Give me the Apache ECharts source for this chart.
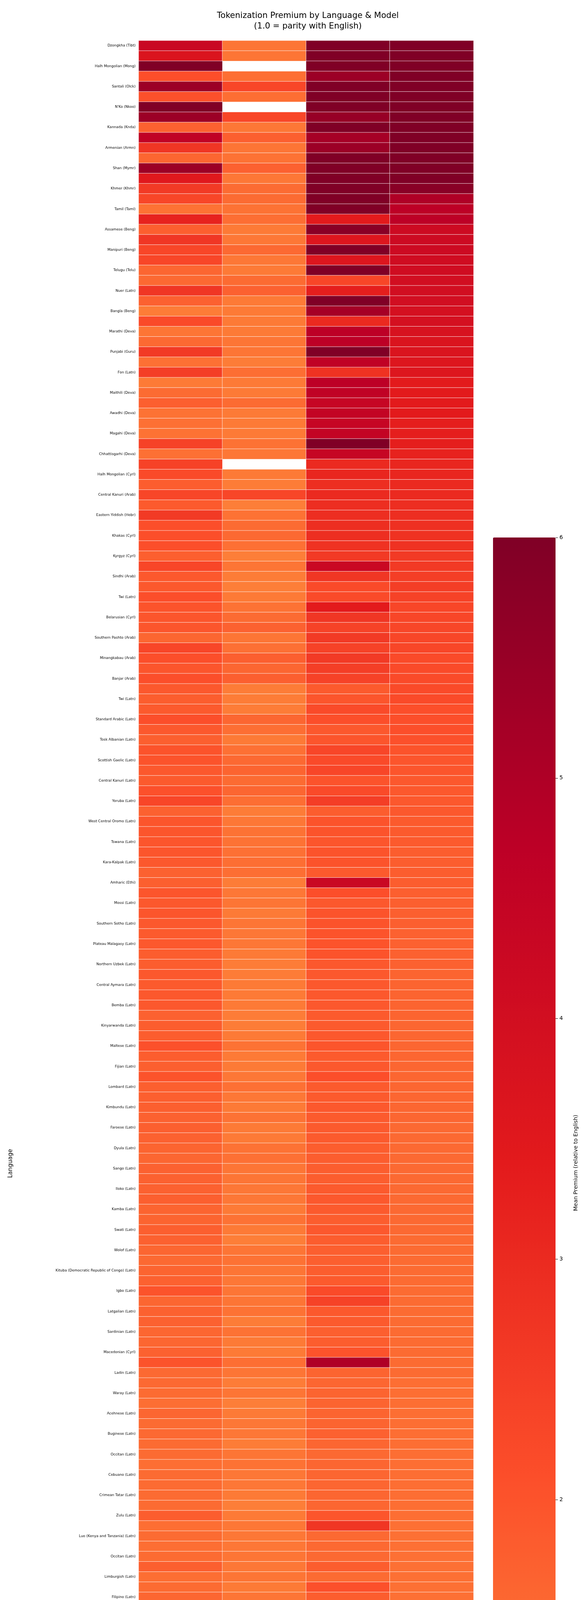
<!DOCTYPE html>
<html>
<head>
<meta charset="utf-8">
<script src="https://cdn.jsdelivr.net/npm/echarts@6/dist/echarts.min.js"></script>
<style>html,body{margin:0;padding:0;background:#fff}#main{width:1500px;height:5940px}</style>
</head>
<body>
<div id="main"></div>
<script>
// models (x axis)
var models = ["gemma3", "meta", "qwen3", "tiny-aya"];
// labelled rows only (every other row carries a label in the source)
var labelledLanguages = [
  "Dzongkha (Tibt)", "Halh Mongolian (Mong)", "Santali (Olck)", "N'Ko (Nkoo)", "Kannada (Knda)",
  "Armenian (Armn)", "Shan (Mymr)", "Khmer (Khmr)", "Tamil (Taml)", "Assamese (Beng)",
  "Manipuri (Beng)", "Telugu (Telu)", "Nuer (Latn)", "Bangla (Beng)", "Marathi (Deva)",
  "Punjabi (Guru)", "Fon (Latn)", "Maithili (Deva)", "Awadhi (Deva)", "Magahi (Deva)",
  "Chhattisgarhi (Deva)", "Halh Mongolian (Cyrl)", "Central Kanuri (Arab)", "Eastern Yiddish (Hebr)", "Khakas (Cyrl)",
  "Kyrgyz (Cyrl)", "Sindhi (Arab)", "Twi (Latn)", "Belarusian (Cyrl)", "Southern Pashto (Arab)",
  "Minangkabau (Arab)", "Banjar (Arab)", "Twi (Latn)", "Standard Arabic (Latn)", "Tosk Albanian (Latn)",
  "Scottish Gaelic (Latn)", "Central Kanuri (Latn)", "Yoruba (Latn)", "West Central Oromo (Latn)", "Tswana (Latn)",
  "Kara-Kalpak (Latn)", "Amharic (Ethi)", "Mossi (Latn)", "Southern Sotho (Latn)", "Plateau Malagasy (Latn)",
  "Northern Uzbek (Latn)", "Central Aymara (Latn)", "Bemba (Latn)", "Kinyarwanda (Latn)", "Maltese (Latn)",
  "Fijian (Latn)", "Lombard (Latn)", "Kimbundu (Latn)", "Faroese (Latn)", "Dyula (Latn)",
  "Sango (Latn)", "Iloko (Latn)", "Kamba (Latn)", "Swati (Latn)", "Wolof (Latn)",
  "Kituba (Democratic Republic of Congo) (Latn)", "Igbo (Latn)", "Latgalian (Latn)", "Sardinian (Latn)", "Macedonian (Cyrl)",
  "Ladin (Latn)", "Waray (Latn)", "Acehnese (Latn)", "Buginese (Latn)", "Occitan (Latn)",
  "Cebuano (Latn)", "Crimean Tatar (Latn)", "Zulu (Latn)", "Luo (Kenya and Tanzania) (Latn)", "Occitan (Latn)",
  "Limburgish (Latn)", "Filipino (Latn)", "Basque (Latn)", "Papiamento (Latn)", "Standard Latvian (Latn)",
  "Haitian Creole (Latn)", "Venetian (Latn)", "Afrikaans (Latn)", "Catalan (Latn)", "Iranian Persian (Arab)",
  "Polish (Latn)", "Russian (Cyrl)", "Lithuanian (Latn)", "Slovak (Latn)", "Hebrew (Hebr)",
  "Standard Estonian (Latn)", "French (Latn)", "Persian (Afghanistan) (Arab)", "Moroccan Arabic (Arab)", "Banjar (Latn)",
  "Czech (Latn)", "Vietnamese (Latn)", "Cantonese (Hant)", "Italian (Latn)", "Turkish (Latn)",
  "Najdi Arabic (Arab)", "Ta'izzi-Adeni Arabic (Arab)", "German (Latn)", "Javanese (Latn)", "Mesopotamian Arabic (Arab)",
  "North Levantine Arabic (Arab)", "Portuguese (Latn)", "Korean (Hang)", "Standard Malay (Latn)", "Indonesian (Latn)"
];
// mean premium per row, one array per model (null = missing)
var gemma3 = [
  4.3,3.7,6.5,2.1,5.4,2.05,6.5,5.4,1.7,4.6, 2.7,1.6,5.4,3.5,2.6,2.3,1.35,3.2,1.75,2.7,
  2.3,2.3,1.6,1.55,2.7,1.7,1.15,2.2,1.3,1.55, 2.6,1.4,2.5,1.2,1.5,1.75,1.35,1.4,1.35,2.4,
  1.4,2.4,2.2,1.8,2.3,1.85,2.6,2.1,2.1,2.1, 1.75,2.3,1.9,1.9,2.1,2.0,1.95,1.95,1.6,2.3,
  2.1,1.95,2.1,1.9,1.8,1.85,2.1,1.9,1.75,2.0, 2.0,1.9,1.85,2.05,2.3,1.7,1.95,1.95,1.95,1.95,
  1.9,1.7,1.75,1.95,1.9,1.95,1.9,1.85,1.9,1.8, 1.8,1.9,1.85,1.9,1.9,1.7,1.8,1.8,2.05,1.8,
  1.75,2.0,1.75,1.75,1.75,1.7,1.75,1.7,1.65,1.6, 1.7,1.7,1.7,1.75,1.65,1.65,1.75,1.7,1.6,1.55,
  1.65,1.7,2.0,1.6,1.7,1.7,1.6,1.6,1.7,2.0, 1.55,1.55,1.5,1.45,1.6,1.5,1.55,1.5,1.5,1.45,
  1.5,1.5,1.5,1.5,1.8,1.45,1.5,1.45,1.5,1.75, 1.45,1.5,1.6,1.45,1.5,1.45,1.45,1.45,1.7,1.45,
  1.45,1.45,1.45,1.45,1.45,1.4,1.4,1.4,1.35,1.35, 1.35,1.35,1.3,1.5,1.5,1.5,1.45,1.4,1.6,1.4,
  1.45,1.4,1.4,1.4,1.4,1.4,1.45,1.4,1.4,1.35, 1.45,1.4,1.35,1.35,1.15,1.35,1.4,1.3,1.35,1.35,
  1.35,1.35,1.4,1.35,1.3,1.3,1.35,1.3,1.35,1.3, 1.3,1.3,1.2,1.15,1.3,1.2,1.2,1.15,1.2,1.1
];
var meta = [
  1.3,1.3,null,1.45,2.3,1.45,null,2.3,1.25,1.75, 1.3,1.35,1.7,1.25,1.5,1.5,1.35,1.45,1.2,1.25,
  1.55,1.25,1.2,1.5,1.7,1.2,1.2,1.2,1.2,1.3, 1.3,1.15,1.45,1.2,1.2,1.5,1.2,1.2,1.2,1.35,
  1.25,null,1.2,1.15,2.3,1.1,1.35,1.5,1.55,1.4, 1.1,1.3,1.15,1.1,1.2,1.35,1.5,1.7,1.3,1.4,
  1.75,1.6,1.75,1.15,1.15,1.15,1.6,1.45,1.2,1.4, 1.55,1.65,1.5,1.6,1.45,1.15,1.25,1.35,1.35,1.4,
  1.45,1.45,1.15,1.25,1.3,1.2,1.3,1.25,1.25,1.2, 1.15,1.15,1.2,1.2,1.2,1.15,1.15,1.2,1.35,1.2,
  1.2,1.25,1.4,1.25,1.2,1.35,1.2,1.2,1.35,1.4, 1.3,1.3,1.25,1.25,1.2,1.35,1.2,1.1,1.3,1.35,
  1.3,1.25,1.3,1.3,1.35,1.15,1.35,1.2,1.2,1.45, 1.3,1.15,1.3,1.1,1.2,1.25,1.25,1.15,1.3,1.35,
  1.25,1.25,1.2,1.1,1.2,1.25,1.25,1.25,1.3,1.25, 1.3,1.2,1.3,1.35,1.25,1.35,1.25,1.25,1.25,1.2,
  1.15,1.3,1.3,1.3,1.2,1.05,1.25,1.15,1.15,1.1, 1.3,1.1,1.3,1.3,1.2,1.2,1.25,1.2,1.25,1.15,
  1.25,1.25,1.3,1.2,1.2,1.15,1.3,1.2,1.15,1.15, 1.3,1.35,1.25,1.25,1.2,1.2,1.25,1.25,1.2,1.15,
  1.3,1.3,1.3,1.2,1.25,1.25,1.1,1.1,1.3,1.1, 1.3,1.3,1.2,1.15,1.15,1.15,1.1,1.2,1.15,1.1
];
var qwen3 = [
  6.5,6.5,6.5,5.4,6.5,6.5,6.5,5.5,6.5,5.2, 5.4,6.5,6.5,6.5,6.5,6.5,6.5,3.4,5.8,3.6,
  6.2,3.6,6.5,2.3,3.3,6.5,5.2,3.0,4.7,4.7, 6.5,4.6,2.8,4.7,4.6,4.4,4.5,4.4,4.5,6.3,
  4.4,3.0,3.1,2.9,3.0,2.9,2.9,2.9,2.9,2.8, 2.6,4.3,2.7,2.2,2.2,3.4,2.7,2.4,2.6,2.4,
  2.6,2.5,2.4,1.85,1.95,2.2,2.1,1.9,1.95,2.3, 2.2,2.3,2.0,2.2,2.5,1.8,2.0,2.0,1.95,2.0,
  2.0,1.85,4.3,2.1,1.9,2.0,2.0,2.0,2.0,2.0, 1.9,1.9,1.9,1.9,1.9,1.85,1.85,1.9,1.95,1.85,
  1.9,2.1,1.85,1.85,1.9,1.85,1.85,1.85,1.8,1.8, 1.8,1.8,1.85,1.9,1.85,1.8,1.9,1.8,1.75,1.75,
  1.8,1.85,2.2,2.4,1.9,1.85,1.75,1.8,2.0,5.0, 1.65,1.6,1.65,1.65,1.65,1.65,1.7,1.6,1.55,1.6,
  1.6,1.6,1.6,1.6,1.95,2.7,1.55,1.55,1.55,1.8, 1.5,2.05,1.8,1.5,1.75,2.3,1.55,1.95,2.0,1.85,
  1.55,1.55,1.6,1.65,1.6,1.6,1.5,1.5,2.4,1.45, 1.5,1.5,1.5,1.75,1.85,1.7,1.9,1.65,1.35,1.45,
  1.6,1.45,1.45,1.6,2.4,1.4,1.45,1.55,1.45,1.4, 1.85,1.45,1.35,1.45,1.25,1.45,1.45,1.4,1.5,1.5,
  1.45,1.45,1.45,1.45,1.35,1.4,1.5,1.4,1.45,1.4, 1.4,1.4,1.25,1.15,1.5,1.3,1.5,1.1,1.4,1.1
];
var tinyAya = [
  6.5,6.5,6.5,6.5,6.5,6.5,6.5,6.5,6.5,6.5, 6.5,6.5,6.5,6.5,5.8,5.0,4.7,4.7,4.2,4.2,
  4.2,4.1,4.1,4.0,4.0,4.0,3.9,3.9,3.8,3.7, 3.7,3.6,3.6,3.4,3.4,3.4,3.4,3.3,3.3,3.3,
  3.2,3.1,3.1,3.0,3.0,2.9,2.9,2.85,2.8,2.8, 2.6,2.6,2.5,2.5,2.4,2.3,2.3,2.3,2.3,2.3,
  2.2,2.2,2.2,2.2,2.2,2.1,2.1,2.1,2.05,2.0, 1.95,1.95,1.9,1.9,1.9,1.9,1.85,1.85,1.85,1.8,
  1.8,1.8,1.8,1.75,1.75,1.75,1.75,1.7,1.7,1.7, 1.7,1.65,1.65,1.65,1.65,1.65,1.6,1.6,1.6,1.6,
  1.6,1.6,1.6,1.6,1.6,1.6,1.55,1.55,1.55,1.55, 1.55,1.55,1.55,1.55,1.55,1.55,1.55,1.5,1.5,1.5,
  1.5,1.5,1.5,1.5,1.5,1.5,1.5,1.5,1.5,1.5, 1.5,1.45,1.45,1.45,1.45,1.45,1.45,1.45,1.45,1.45,
  1.45,1.45,1.45,1.45,1.45,1.4,1.4,1.4,1.4,1.4, 1.4,1.4,1.4,1.4,1.4,1.4,1.35,1.35,1.35,1.35,
  1.35,1.35,1.35,1.35,1.35,1.35,1.35,1.35,1.3,1.3, 1.3,1.3,1.3,1.3,1.3,1.3,1.3,1.3,1.3,1.3,
  1.3,1.3,1.3,1.3,1.3,1.3,1.3,1.3,1.3,1.25, 1.25,1.25,1.25,1.25,1.25,1.25,1.25,1.25,1.25,1.25,
  1.25,1.2,1.2,1.2,1.2,1.2,1.2,1.2,1.2,1.2, 1.2,1.2,1.2,1.15,1.2,1.15,1.15,1.15,1.15,1.1
];
var colorbarMin = 0.8, colorbarMax = 6;
// upper half of YlOrRd
var palette = ["#fd8d3c", "#fc4e2a", "#e31a1c", "#bd0026", "#800026"];

var rows = [];
labelledLanguages.forEach(function (l) { rows.push(l); rows.push(""); });

var cells = [];
[gemma3, meta, qwen3, tinyAya].forEach(function (col, x) {
    for (var y = 0; y < col.length; y++) {
        if (col[y] === null) continue;
        // colour scale is clipped at colorbarMax like the source
        cells.push([x, y, Math.min(col[y], colorbarMax)]);
    }
});

var font = "DejaVu Sans";
var chart = echarts.init(document.getElementById("main"));
chart.setOption({
    animation: false,
    textStyle: { fontFamily: font },
    title: {
        text: "Tokenization Premium by Language & Model\n(1.0 = parity with English)",
        left: 783, top: 22, textAlign: "center",
        textStyle: { fontSize: 21, fontWeight: "normal", color: "#000", lineHeight: 27, fontFamily: font }
    },
    grid: [
        { left: 355, top: 104, width: 857, height: 5749 },
        { left: 1262, top: 1376, width: 160, height: 3202 }
    ],
    xAxis: [{
        gridIndex: 0, type: "category", data: models,
        name: "Model", nameLocation: "middle", nameGap: 48,
        nameTextStyle: { fontSize: 15, color: "#000" },
        axisLine: { show: false }, splitLine: { show: false },
        axisTick: { alignWithLabel: true, length: 6, lineStyle: { color: "#000" } },
        axisLabel: { fontSize: 15, color: "#000", margin: 12 }
    }, {
        gridIndex: 1, type: "category", data: [""], show: false
    }],
    yAxis: [{
        gridIndex: 0, type: "category", data: rows, inverse: true,
        name: "Language", nameLocation: "middle", nameGap: 320, nameRotate: 90,
        nameTextStyle: { fontSize: 15, color: "#000" },
        axisLine: { show: false }, splitLine: { show: false },
        axisTick: { alignWithLabel: true, interval: 1, length: 5, lineStyle: { color: "#000" } },
        axisLabel: { interval: 1, fontSize: 9, color: "#000", margin: 8 }
    }, {
        gridIndex: 1, type: "value", position: "right",
        min: colorbarMin, max: colorbarMax, splitNumber: 5,
        name: "Mean Premium (relative to English)", nameLocation: "middle", nameGap: 45, nameRotate: 90,
        nameTextStyle: { fontSize: 14, color: "#000" },
        axisLine: { show: false }, splitLine: { show: false },
        axisTick: { show: true, length: 6, lineStyle: { color: "#000" } },
        axisLabel: { fontSize: 14, color: "#000", showMinLabel: false, margin: 10 }
    }],
    visualMap: {
        type: "continuous", min: colorbarMin, max: colorbarMax,
        calculable: false, text: null, showLabel: false,
        left: 1262, top: 1376, itemWidth: 160, itemHeight: 3202,
        seriesIndex: 0, inRange: { color: palette }, padding: 0
    },
    series: [{
        type: "heatmap", xAxisIndex: 0, yAxisIndex: 0, data: cells,
        itemStyle: { borderColor: "rgba(255,255,255,0.85)", borderWidth: 1 },
        emphasis: { disabled: true }
    }]
});
</script>
</body>
</html>
